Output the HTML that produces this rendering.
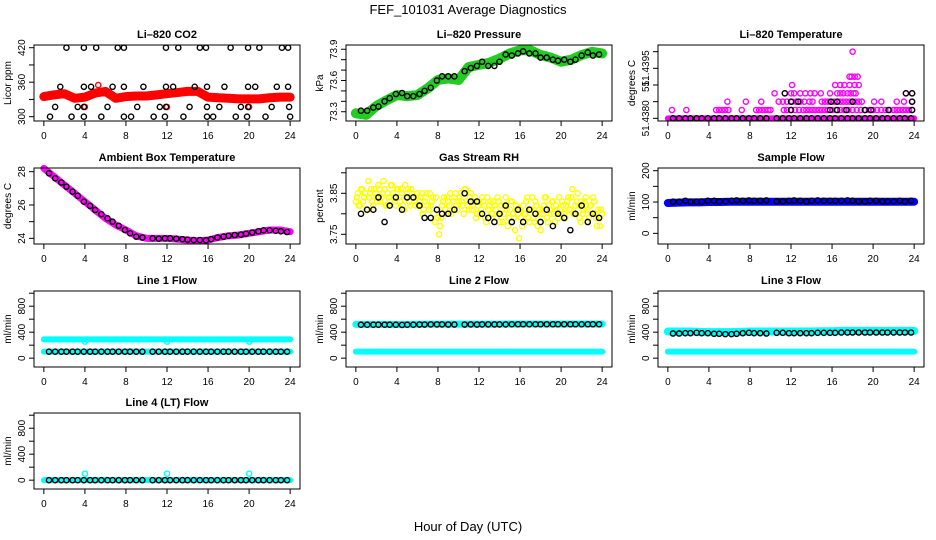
<!DOCTYPE html>
<html><head><meta charset="utf-8"><style>
html,body{margin:0;padding:0;background:#fff;}
svg{display:block;font-family:"Liberation Sans",Arial,sans-serif;}
</style></head><body>
<svg id="chart" width="936" height="540" viewBox="0 0 936 540" xmlns="http://www.w3.org/2000/svg">
<rect x="0" y="0" width="936" height="540" fill="#fff"/>
<text x="468" y="14" font-size="13" text-anchor="middle">FEF_101031  Average Diagnostics</text>
<text x="468" y="531" font-size="13" text-anchor="middle">Hour of Day (UTC)</text>
</svg>
<script>
// ---- data ----
const hourly = [0,1,2,3,4,5,6,7,8,9,10,11,12,13,14,15,16,17,18,19,20,21,22,23,24];
const hPts = [0.5,1.1,1.7,2.2,2.8,3.3,3.9,4.5,5.0,5.6,6.2,6.7,7.3,7.9,8.4,9.0,9.6,10.6,11.2,11.8,12.3,12.9,13.5,14.0,14.6,15.2,15.8,16.3,16.9,17.5,18.0,18.6,19.2,19.7,20.3,20.9,21.4,22.0,22.6,23.1,23.7];

const co2Band = [335,338,340,332,334,341,344,332,335,336,336,338,340,342,344,344,334,333,332,331,331,331,333,334,334];
const co2H = [2.2,3.9,5.1,7.2,7.8,11.9,13.1,15.2,15.8,18.2,19.9,21.0,23.2,23.8,
  1.6,3.9,4.6,6.7,7.8,9.7,11.9,12.6,14.7,15.9,17.6,19.9,20.6,22.7,23.8,
  1.1,3.3,3.9,6.2,9.1,11.3,11.9,14.2,15.9,17.1,19.2,19.9,22.2,23.9,
  0.6,2.7,3.9,5.6,7.8,8.5,10.7,11.8,13.6,15.9,16.5,18.7,19.8,21.6,24];
const co2V = [420,420,420,420,420,420,420,420,420,420,420,420,420,420,
  352,352,352,352,352,352,352,352,352,352,352,352,352,352,352,
  317,317,317,317,317,317,317,317,317,317,317,317,317,317,
  300,300,300,300,300,300,300,300,300,300,300,300,300,300,300];
const co2RedH = [4,12,20,5.3];
const co2RedV = [317,317,317,355];

const presBand = [73.285,73.27,73.355,73.41,73.46,73.45,73.46,73.525,73.605,73.62,73.605,73.73,73.75,73.77,73.81,73.86,73.89,73.89,73.845,73.82,73.78,73.80,73.845,73.875,73.86];
const presPts = [73.31,73.31,73.34,73.35,73.40,73.43,73.47,73.48,73.45,73.45,73.47,73.50,73.53,73.60,73.64,73.64,73.64,73.69,73.72,73.74,73.78,73.74,73.74,73.78,73.85,73.84,73.86,73.88,73.86,73.86,73.82,73.82,73.80,73.79,73.80,73.78,73.80,73.84,73.87,73.84,73.85];

const tempBase = [51.438,51.438,51.438,51.438,51.438,51.438,51.438,51.438,51.438,51.438,51.438,51.438,51.438,51.438,51.438,51.438,51.438,51.438,51.438,51.438,51.438,51.438,51.438,51.438,51.438];
const tempMagH = [0.4,1.8,4.7,5.0,5.3,5.6,5.9,7.2,8.6,8.9,9.2,9.5,9.8,10.0,11.3,11.6,12.0,12.4,12.8,13.2,13.5,13.8,14.1,14.4,14.7,15.0,15.3,15.6,16.0,16.4,16.8,17.2,17.6,18.0,18.4,18.8,19.2,19.6,20.0,20.4,20.8,21.2,21.6,22.0,22.3,22.6,22.9,23.2,23.5,23.8,
  5.8,7.6,9.1,10.8,11.2,11.6,12.1,12.5,12.9,13.3,13.8,14.1,15.0,15.3,15.6,15.9,16.2,16.5,16.8,17.1,17.4,17.7,18.0,18.3,18.6,18.9,20.1,20.8,22.3,23.0,23.8,
  10.4,11.4,12.0,12.3,12.9,13.4,13.9,14.3,14.9,15.8,16.5,16.8,17.1,17.5,17.8,18.1,18.3,23.2,23.8,
  12.1,16.3,16.8,17.2,17.7,18.2,18.6,
  17.7,17.9,18.2,18.5,
  18.0];
const tempMagV = [51.43825,51.43825,51.43825,51.43825,51.43825,51.43825,51.43825,51.43825,51.43825,51.43825,51.43825,51.43825,51.43825,51.43825,51.43825,51.43825,51.43825,51.43825,51.43825,51.43825,51.43825,51.43825,51.43825,51.43825,51.43825,51.43825,51.43825,51.43825,51.43825,51.43825,51.43825,51.43825,51.43825,51.43825,51.43825,51.43825,51.43825,51.43825,51.43825,51.43825,51.43825,51.43825,51.43825,51.43825,51.43825,51.43825,51.43825,51.43825,51.43825,51.43825,
  51.4385,51.4385,51.4385,51.4385,51.4385,51.4385,51.4385,51.4385,51.4385,51.4385,51.4385,51.4385,51.4385,51.4385,51.4385,51.4385,51.4385,51.4385,51.4385,51.4385,51.4385,51.4385,51.4385,51.4385,51.4385,51.4385,51.4385,51.4385,51.4385,51.4385,51.4385,
  51.43875,51.43875,51.43875,51.43875,51.43875,51.43875,51.43875,51.43875,51.43875,51.43875,51.43875,51.43875,51.43875,51.43875,51.43875,51.43875,51.43875,51.43875,51.43875,
  51.439,51.439,51.439,51.439,51.439,51.439,51.439,
  51.43925,51.43925,51.43925,51.43925,
  51.44];
const tempBlkH = [0.5,1.1,1.7,2.2,2.8,3.3,3.9,4.5,5.0,5.6,6.2,6.7,7.3,7.9,8.4,9.0,9.6,10.6,11.2,11.8,12.3,12.9,13.5,14.0,14.6,15.2,15.8,16.3,16.9,17.5,18.0,18.6,19.2,19.7,20.3,20.9,21.4,22.0,22.6,23.1,23.7,
  12.0,15.8,16.5,17.4,19.2,19.8,21.5,23.8,
  12.0,12.7,15.9,16.5,18.0,23.8,
  11.4,23.2,23.8];
const tempBlkV = [51.438,51.438,51.438,51.438,51.438,51.438,51.438,51.438,51.438,51.438,51.438,51.438,51.438,51.438,51.438,51.438,51.438,51.438,51.438,51.438,51.438,51.438,51.438,51.438,51.438,51.438,51.438,51.438,51.438,51.438,51.438,51.438,51.438,51.438,51.438,51.438,51.438,51.438,51.438,51.438,51.438,
  51.43825,51.43825,51.43825,51.43825,51.43825,51.43825,51.43825,51.43825,
  51.4385,51.4385,51.4385,51.4385,51.4385,51.4385,
  51.43875,51.43875,51.43875];

const ambBand = [28.2,27.7,27.2,26.7,26.2,25.7,25.2,24.8,24.5,24.15,24.0,24.0,24.0,23.95,23.9,23.85,23.9,24.05,24.15,24.2,24.3,24.4,24.5,24.5,24.4];
const ambPts = [27.9,27.6,27.35,27.1,26.8,26.55,26.2,25.95,25.7,25.45,25.2,25.0,24.75,24.5,24.3,24.1,24.05,24.0,23.98,24.0,24.0,23.98,23.95,23.92,23.9,23.9,23.88,23.95,24.05,24.1,24.15,24.2,24.22,24.28,24.35,24.42,24.48,24.48,24.45,24.42,24.38];

const rhA = [3.83,3.85,3.82,3.86,3.84,3.81,3.88,3.85,3.83,3.86,3.84,
  3.87,3.83,3.85,3.86,3.82,3.84,3.87,3.85,3.83,3.86,
  3.84,3.86,3.82,3.87,3.85,3.83,3.86,3.84,3.82,3.85,
  3.83,3.85,3.81,3.84,3.82,3.85,3.83,3.80,3.84,3.79,
  3.77,3.82,3.84,3.80,3.83,3.85,3.81,3.84,3.82,3.83,
  3.85,3.82,3.86,3.83,3.81,3.85,3.82,3.84,3.80,3.83,
  3.81,3.83,3.79,3.84,3.82,3.80,3.83,3.81,3.84,3.78,
  3.82,3.80,3.84,3.77,3.81,3.83,3.79,3.82,3.80,3.81,
  3.77,3.80,3.83,3.79,3.81,3.84,3.78,3.82,3.80,3.76,
  3.81,3.84,3.79,3.82,3.80,3.83,3.78,3.81,3.84,3.80,
  3.82,3.79,3.83,3.81,3.84,3.80,3.82,3.85,3.79,3.83,
  3.81,3.84,3.78,3.82,3.80,3.83,3.79,3.81,3.77,3.80];
const rhB = [3.84,3.82,3.86,3.83,3.85,3.81,3.84,3.86,3.82,3.85,
  3.83,3.86,3.84,3.88,3.82,3.85,3.83,3.87,3.84,3.82,
  3.86,3.83,3.85,3.81,3.84,3.86,3.82,3.85,3.83,3.84,
  3.82,3.84,3.80,3.83,3.85,3.81,3.82,3.84,3.78,3.81,
  3.75,3.79,3.83,3.81,3.84,3.82,3.80,3.83,3.85,3.81,
  3.84,3.83,3.80,3.86,3.82,3.84,3.81,3.83,3.79,3.82,
  3.80,3.84,3.82,3.78,3.81,3.83,3.80,3.82,3.79,3.83,
  3.80,3.78,3.82,3.81,3.79,3.83,3.80,3.76,3.81,3.74,
  3.79,3.82,3.80,3.84,3.78,3.81,3.79,3.83,3.77,3.81,
  3.80,3.82,3.84,3.78,3.81,3.83,3.80,3.82,3.79,3.81,
  3.83,3.80,3.82,3.84,3.81,3.86,3.80,3.83,3.82,3.78,
  3.80,3.83,3.81,3.79,3.82,3.84,3.80,3.77,3.79,3.81];
const rhPts = [3.80,3.81,3.81,3.84,3.78,3.82,3.84,3.81,3.84,3.84,3.82,3.79,3.79,3.81,3.80,3.80,3.81,3.85,3.83,3.83,3.80,3.79,3.78,3.80,3.82,3.78,3.81,3.78,3.81,3.80,3.78,3.81,3.77,3.80,3.79,3.76,3.80,3.82,3.78,3.80,3.79];

const sampBand = [97,98,99,99,100,100,101,101,101,101,101,101,101,101,101,101,101,101,101,101,101,101,101,101,101];
const sampPts = [101,101,104,101,101,101,104,104,102,102,104,105,104,105,104,104,105,102,102,104,105,104,102,104,105,104,104,104,104,105,104,102,102,104,104,102,102,102,104,102,104];

const l1Upper = [290,290,290,290,290,290,290,290,290,290,290,290,290,290,290,290,290,290,290,290,290,290,290,290,290];
const l1Lower = [100,100,100,100,100,100,100,100,100,100,100,100,100,100,100,100,100,100,100,100,100,100,100,100,100];
const l1DipH = [4,12,20];
const l1DipV = [255,255,255];
const l1Pts = [100,100,100,100,100,100,100,100,100,100,100,100,100,100,100,100,100,100,100,100,100,100,100,100,100,100,100,100,100,100,100,100,100,100,100,100,100,100,100,100,100];

const l2Upper = [520,520,520,520,518,520,522,524,524,524,524,524,524,524,524,526,526,526,526,526,526,526,526,526,526];
const l2Lower = [100,100,100,100,100,100,100,100,100,100,100,100,100,100,100,100,100,100,100,100,100,100,100,100,100];
const l2Pts = [515,515,515,515,515,515,515,512,515,515,518,518,520,520,520,518,518,518,520,518,520,520,520,520,520,522,522,522,522,522,522,522,522,522,522,522,522,522,522,522,522];

const l3Upper = [410,410,410,405,400,400,400,405,410,410,410,410,410,410,410,415,415,420,420,420,420,420,420,420,420];
const l3Lower = [100,100,100,100,100,100,100,100,100,100,100,100,100,100,100,100,100,100,100,100,100,100,100,100,100];
const l3Pts = [380,380,385,385,390,385,385,375,375,370,370,375,385,390,385,385,380,390,390,385,385,385,385,385,390,390,390,390,395,395,395,395,395,395,395,395,395,395,395,395,395];

const l4Band = [0,0,0,0,0,0,0,0,0,0,0,0,0,0,0,0,0,0,0,0,0,0,0,0,0];
const l4SpikeH = [4,12,20];
const l4SpikeV = [100,100,100];
const l4Pts = [0,0,0,0,0,0,0,0,0,0,0,0,0,0,0,0,0,0,0,0,0,0,0,0,0,0,0,0,0,0,0,0,0,0,0,0,0,0,0,0,0];

const xTicks = [0,4,8,12,16,20,24];

// ---- layout ----
const NS = 'http://www.w3.org/2000/svg';
const svg = document.getElementById('chart');
const COLS = [34,346,658], ROWS = [45,168,291,413], W = 266, H = 76;
const XMIN = -0.96, XMAX = 24.96;

function el(tag, parent, name) {
  const e = document.createElementNS(NS, tag);
  
  
  parent.appendChild(e);
  return e;
}

function panel(name, title, col, row, ymin, ymax, yticks, ylabels, ytitle) {
  const x0 = COLS[col], y0 = ROWS[row];
  const g = el('g', svg, name);
  const sx = h => x0 + (h - XMIN) / (XMAX - XMIN) * W;
  const sy = v => y0 + H - (v - ymin) / (ymax - ymin) * H;
  const t = el('text', g, name + '-title');
  t.setAttribute('x', x0 + W / 2); t.setAttribute('y', y0 - 7);
  t.setAttribute('font-size', '11'); t.setAttribute('font-weight', 'bold');
  t.setAttribute('text-anchor', 'middle'); t.textContent = title;
  const plot = el('g', g, name + '-plot-area');
  // x axis
  const xa = el('g', g, name + '-x-axis');
  const xl = el('line', xa, 'x-axis-line');
  xl.setAttribute('x1', sx(xTicks[0])); xl.setAttribute('x2', sx(xTicks[xTicks.length - 1]));
  xl.setAttribute('y1', y0 + H); xl.setAttribute('y2', y0 + H); xl.setAttribute('stroke', '#000');
  xTicks.forEach(v => {
    const tk = el('line', xa, 'x-tick');
    tk.setAttribute('x1', sx(v)); tk.setAttribute('x2', sx(v));
    tk.setAttribute('y1', y0 + H); tk.setAttribute('y2', y0 + H + 5); tk.setAttribute('stroke', '#000');
    const lb = el('text', xa, 'x-tick-label');
    lb.setAttribute('x', sx(v)); lb.setAttribute('y', y0 + H + 18);
    lb.setAttribute('font-size', '10'); lb.setAttribute('text-anchor', 'middle');
    lb.textContent = String(v);
  });
  // y axis
  const ya = el('g', g, name + '-y-axis');
  const yl = el('line', ya, 'y-axis-line');
  yl.setAttribute('x1', x0); yl.setAttribute('x2', x0);
  yl.setAttribute('y1', sy(yticks[0])); yl.setAttribute('y2', sy(yticks[yticks.length - 1]));
  yl.setAttribute('stroke', '#000');
  yticks.forEach((v, i) => {
    const tk = el('line', ya, 'y-tick');
    tk.setAttribute('x1', x0 - 5); tk.setAttribute('x2', x0);
    tk.setAttribute('y1', sy(v)); tk.setAttribute('y2', sy(v)); tk.setAttribute('stroke', '#000');
    if (ylabels[i]) {
      const lb = el('text', ya, 'y-tick-label');
      const lx = x0 - 9, ly = sy(v);
      lb.setAttribute('x', lx); lb.setAttribute('y', ly);
      lb.setAttribute('font-size', '10'); lb.setAttribute('text-anchor', 'middle');
      lb.setAttribute('transform', 'rotate(-90 ' + lx + ' ' + ly + ')');
      lb.textContent = ylabels[i];
    }
  });
  const yt = el('text', g, name + '-y-title');
  const tx = x0 - 23, ty = y0 + H / 2;
  yt.setAttribute('x', tx); yt.setAttribute('y', ty);
  yt.setAttribute('font-size', '10'); yt.setAttribute('text-anchor', 'middle');
  yt.setAttribute('transform', 'rotate(-90 ' + tx + ' ' + ty + ')');
  yt.textContent = ytitle;
  // box
  const bx = el('rect', g, name + '-frame');
  bx.setAttribute('x', x0); bx.setAttribute('y', y0); bx.setAttribute('width', W); bx.setAttribute('height', H);
  bx.setAttribute('fill', 'none'); bx.setAttribute('stroke', '#000');
  return { sx, sy, plot };
}

function band(p, hs, vs, color, width, name) {
  const pl = el('polyline', p.plot, name);
  pl.setAttribute('points', hs.map((h, i) => p.sx(h) + ',' + p.sy(vs[i])).join(' '));
  pl.setAttribute('fill', 'none'); pl.setAttribute('stroke', color);
  pl.setAttribute('stroke-width', width); pl.setAttribute('stroke-linecap', 'round');
  pl.setAttribute('stroke-linejoin', 'round');
}
function pts(p, hs, vs, color, name) {
  const gg = el('g', p.plot, name);
  hs.forEach((h, i) => {
    const c = el('circle', gg, 'point');
    c.setAttribute('cx', p.sx(h)); c.setAttribute('cy', p.sy(vs[i])); c.setAttribute('r', 2.6);
    c.setAttribute('fill', 'none'); c.setAttribute('stroke', color); c.setAttribute('stroke-width', 1.4);
  });
}

// CO2
const pCo2 = panel('co2-panel', 'Li\u2013820 CO2', 0, 0, 292.5, 424.7, [300,330,360,390,420], ['300','','360','','420'], 'Licor ppm');
band(pCo2, hourly, co2Band, '#ff0000', 9, 'co2-band');
pts(pCo2, co2RedH, co2RedV, '#ff0000', 'co2-red-points');
pts(pCo2, co2H, co2V, '#000', 'co2-black-points');

// Pressure
const pPres = panel('pressure-panel', 'Li\u2013820 Pressure', 1, 0, 73.211, 73.941, [73.3,73.4,73.5,73.6,73.7,73.8,73.9], ['73.3','','','73.6','','','73.9'], 'kPa');
band(pPres, hourly, presBand, '#22cc22', 10, 'pressure-band');
pts(pPres, hPts, presPts, '#000', 'pressure-points');

// Temperature
const pTemp = panel('li820-temp-panel', 'Li\u2013820 Temperature', 2, 0, 51.43792, 51.4402, [51.438,51.4385,51.439,51.4395,51.44], ['51.4380','','51.','51.4395',''], 'degrees C');
band(pTemp, hourly, tempBase, '#ff00ff', 6, 'temp-base-band');
pts(pTemp, tempMagH, tempMagV, '#ff00ff', 'temp-magenta-points');
pts(pTemp, tempBlkH, tempBlkV, '#000', 'temp-black-points');

// Ambient
const pAmb = panel('ambient-temp-panel', 'Ambient Box Temperature', 0, 1, 23.66, 28.22, [24,25,26,27,28], ['24','','26','','28'], 'degrees C');
band(pAmb, hourly, ambBand, '#ff00ff', 7, 'ambient-band');
pts(pAmb, hPts, ambPts, '#000', 'ambient-points');

// RH
const pRh = panel('rh-panel', 'Gas Stream RH', 1, 1, 3.7263, 3.9117, [3.75,3.8,3.85,3.9], ['3.75','','3.85',''], 'percent');
pts(pRh, rhA.map((v, i) => i * 0.2), rhA, '#ffff00', 'rh-yellow-points-a');
pts(pRh, rhB.map((v, i) => 0.1 + i * 0.2), rhB, '#ffff00', 'rh-yellow-points-b');
pts(pRh, hPts, rhPts, '#000', 'rh-black-points');

// Sample flow
const pSamp = panel('sample-flow-panel', 'Sample Flow', 2, 1, -34, 208.6, [0,50,100,150,200], ['0','','100','','200'], 'ml/min');
band(pSamp, hourly, sampBand, '#0000ff', 8, 'sample-band');
pts(pSamp, hPts, sampPts, '#000', 'sample-points');

const flowTicks = [0,200,400,600,800,1000], flowLabels = ['0','','400','','800',''];
// Line 1
const pL1 = panel('line1-panel', 'Line 1 Flow', 0, 2, -136, 1034, flowTicks, flowLabels, 'ml/min');
band(pL1, hourly, l1Upper, '#00ffff', 6, 'line1-upper-band');
band(pL1, hourly, l1Lower, '#00ffff', 6, 'line1-lower-band');
pts(pL1, l1DipH, l1DipV, '#00ffff', 'line1-dips');
pts(pL1, hPts, l1Pts, '#000', 'line1-points');
// Line 2
const pL2 = panel('line2-panel', 'Line 2 Flow', 1, 2, -136, 1034, flowTicks, flowLabels, 'ml/min');
band(pL2, hourly, l2Upper, '#00ffff', 7, 'line2-upper-band');
band(pL2, hourly, l2Lower, '#00ffff', 6, 'line2-lower-band');
pts(pL2, hPts, l2Pts, '#000', 'line2-points');
// Line 3
const pL3 = panel('line3-panel', 'Line 3 Flow', 2, 2, -136, 1034, flowTicks, flowLabels, 'ml/min');
band(pL3, hourly, l3Upper, '#00ffff', 8, 'line3-upper-band');
band(pL3, hourly, l3Lower, '#00ffff', 6, 'line3-lower-band');
pts(pL3, hPts, l3Pts, '#000', 'line3-points');
// Line 4
const pL4 = panel('line4-panel', 'Line 4 (LT) Flow', 0, 3, -136, 1034, flowTicks, flowLabels, 'ml/min');
band(pL4, hourly, l4Band, '#00ffff', 6, 'line4-band');
pts(pL4, l4SpikeH, l4SpikeV, '#00ffff', 'line4-spikes');
pts(pL4, hPts, l4Pts, '#000', 'line4-points');
</script>
</body></html>
